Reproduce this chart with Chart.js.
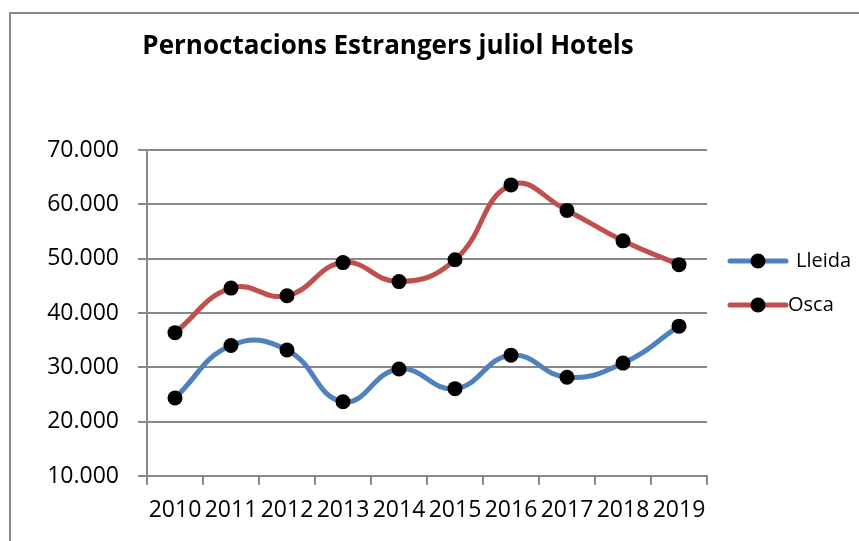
<!DOCTYPE html>
<html>
<head>
<meta charset="utf-8">
<script src="https://cdn.jsdelivr.net/npm/chart.js@4"></script>
<style>
  html, body { margin: 0; padding: 0; background: #fff; }
  #wrap { position: relative; width: 859px; height: 541px; }
</style>
</head>
<body>
<div id="wrap"><canvas id="chart" width="859" height="541"></canvas></div>
<script>
const years = ['2010', '2011', '2012', '2013', '2014', '2015', '2016', '2017', '2018', '2019'];
const lleida = [24360, 34020, 33200, 23660, 29700, 26080, 32240, 28180, 30780, 37580];
const osca = [36380, 44580, 43180, 49280, 45780, 49790, 63580, 58880, 53280, 48900];
const yMin = 10000;
const yMax = 70000;
const yStep = 10000;
const chartTitle = 'Pernoctacions Estrangers juliol Hotels';

const gridGray = '#898989';

function formatThousands(v) {
  return String(v).replace(/\B(?=(\d{3})+(?!\d))/g, '.');
}

// frame + title drawn on the canvas
const framePlugin = {
  id: 'frameAndTitle',
  beforeDraw(chart) {
    const ctx = chart.ctx;
    ctx.save();
    ctx.fillStyle = '#fff';
    ctx.fillRect(0, 0, chart.width, chart.height);
    ctx.strokeStyle = gridGray;
    ctx.lineWidth = 2;
    ctx.strokeRect(10, 13, 900, 600);
    ctx.fillStyle = '#000';
    ctx.font = 'bold 26px "Open Sans"';
    ctx.textAlign = 'center';
    ctx.textBaseline = 'alphabetic';
    ctx.fillText(chartTitle, 388, 54);
    ctx.restore();
  }
};

// legend with line + marker, like the original
const legendPlugin = {
  id: 'lineLegend',
  afterDraw(chart, args, opts) {
    const ctx = chart.ctx;
    ctx.save();
    chart.data.datasets.forEach((ds, i) => {
      const y = opts.rows[i];
      ctx.strokeStyle = ds.borderColor;
      ctx.lineWidth = 5;
      ctx.lineCap = 'round';
      ctx.beginPath();
      ctx.moveTo(opts.x0, y);
      ctx.lineTo(opts.x1, y);
      ctx.stroke();
      ctx.fillStyle = '#000';
      ctx.beginPath();
      ctx.arc((opts.x0 + opts.x1) / 2, y, 7.5, 0, Math.PI * 2);
      ctx.fill();
      ctx.font = '20px "Open Sans"';
      ctx.textAlign = 'left';
      ctx.textBaseline = 'middle';
      ctx.fillText(ds.label, opts.textX[i], y);
    });
    ctx.restore();
  }
};

const ctx = document.getElementById('chart');
const lineChart = new Chart(ctx, {
  type: 'line',
  data: {
    labels: years,
    datasets: [
      {
        label: 'Lleida',
        data: lleida,
        borderColor: '#4F81BD',
        borderWidth: 5,
        tension: 0.45,
        pointRadius: 7.5,
        pointHoverRadius: 7.5,
        pointBackgroundColor: '#000',
        pointBorderColor: '#000',
        pointBorderWidth: 0
      },
      {
        label: 'Osca',
        data: osca,
        borderColor: '#C0504D',
        borderWidth: 5,
        tension: 0.45,
        pointRadius: 7.5,
        pointHoverRadius: 7.5,
        pointBackgroundColor: '#000',
        pointBorderColor: '#000',
        pointBorderWidth: 0
      }
    ]
  },
  options: {
    responsive: false,
    animation: false,
    layout: { padding: { left: 0, top: 150, right: 152, bottom: 0 } },
    plugins: {
      legend: { display: false },
      title: { display: false },
      tooltip: { enabled: false },
      lineLegend: { x0: 730, x1: 786, rows: [261, 305], textX: [796, 788] }
    },
    scales: {
      x: {
        offset: true,
        grid: {
          offset: true,
          drawOnChartArea: false,
          drawTicks: true,
          tickLength: 9,
          color: gridGray,
          lineWidth: 2
        },
        border: { color: gridGray, width: 2 },
        ticks: {
          color: '#000',
          padding: 12,
          maxRotation: 0,
          autoSkip: false,
          font: { family: 'Open Sans', size: 23 }
        },
        afterFit(scale) { scale.height = 65; }
      },
      y: {
        min: yMin,
        max: yMax,
        grid: {
          color: gridGray,
          lineWidth: 2,
          tickLength: 9
        },
        border: { color: gridGray, width: 2 },
        ticks: {
          stepSize: yStep,
          color: '#000',
          padding: 19,
          font: { family: 'Open Sans', size: 23 },
          callback: (v) => formatThousands(v)
        },
        afterFit(scale) { scale.width = 147; }
      }
    }
  },
  plugins: [framePlugin, legendPlugin]
});
</script>
</body>
</html>
